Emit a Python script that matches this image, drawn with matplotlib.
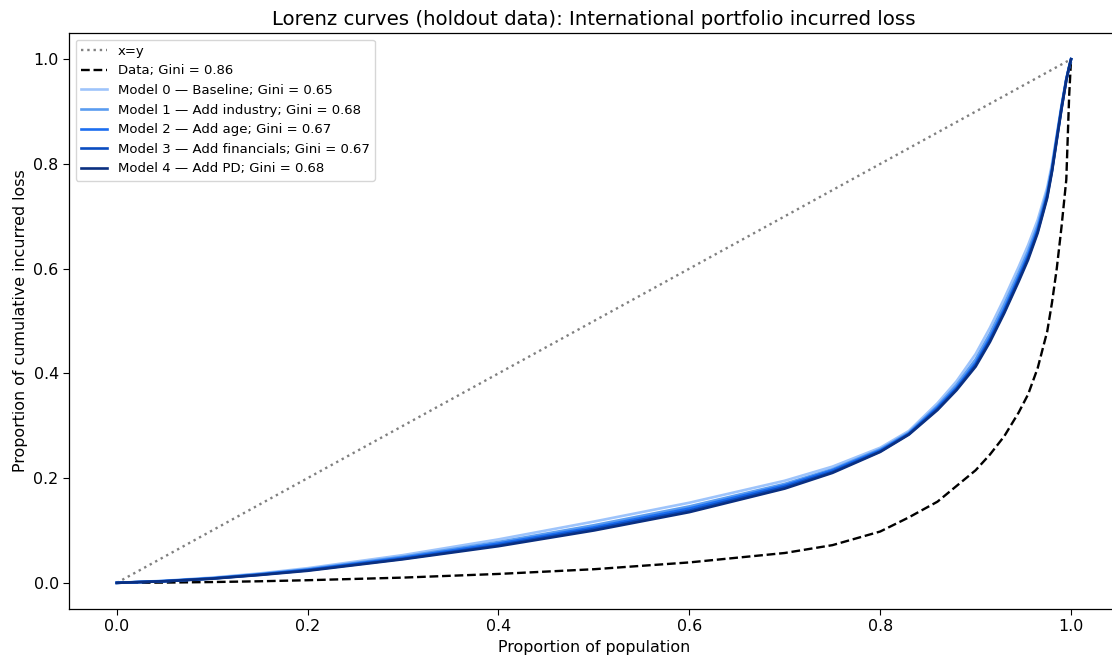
import matplotlib
matplotlib.use("Agg")
import matplotlib.pyplot as plt

x = [0, 0.05, 0.1, 0.15, 0.2, 0.3, 0.4, 0.5, 0.6, 0.7, 0.75, 0.8, 0.83, 0.86, 0.88,
     0.9, 0.915, 0.93, 0.945, 0.955, 0.965, 0.975, 0.98, 0.985, 0.99, 0.995, 0.998, 1.0]

data_y = [0, 0.0005, 0.0015, 0.003, 0.005, 0.010, 0.017, 0.026, 0.039, 0.057, 0.072,
          0.098, 0.125, 0.155, 0.185, 0.215, 0.245, 0.28, 0.325, 0.36, 0.41, 0.48,
          0.535, 0.60, 0.68, 0.77, 0.93, 1.0]

model0_y = [0, 0.004, 0.010, 0.018, 0.028, 0.053, 0.083, 0.117, 0.153, 0.195, 0.222,
            0.258, 0.290, 0.343, 0.385, 0.437, 0.487, 0.543, 0.603, 0.645, 0.693, 0.755,
            0.800, 0.856, 0.912, 0.963, 0.986, 1.0]
model1_y = [0, 0.0035, 0.009, 0.017, 0.026, 0.050, 0.078, 0.110, 0.146, 0.189, 0.217,
            0.255, 0.287, 0.338, 0.378, 0.427, 0.476, 0.532, 0.592, 0.634, 0.683, 0.748,
            0.794, 0.852, 0.910, 0.962, 0.986, 1.0]
model2_y = [0, 0.0033, 0.0085, 0.016, 0.025, 0.048, 0.075, 0.106, 0.142, 0.186, 0.215,
            0.253, 0.285, 0.335, 0.373, 0.420, 0.468, 0.523, 0.584, 0.626, 0.676, 0.742,
            0.789, 0.849, 0.908, 0.961, 0.985, 1.0]
model3_y = [0, 0.0031, 0.0082, 0.0155, 0.024, 0.046, 0.072, 0.103, 0.138, 0.183, 0.212,
            0.251, 0.284, 0.332, 0.370, 0.416, 0.463, 0.518, 0.579, 0.621, 0.671, 0.738,
            0.787, 0.847, 0.906, 0.960, 0.985, 1.0]
model4_y = [0, 0.003, 0.008, 0.015, 0.023, 0.045, 0.070, 0.100, 0.135, 0.180, 0.210,
            0.250, 0.283, 0.330, 0.368, 0.413, 0.460, 0.515, 0.575, 0.617, 0.668, 0.735,
            0.785, 0.845, 0.905, 0.960, 0.985, 1.0]

model_labels = [
    "Model 0 \u2014 Baseline; Gini = 0.65",
    "Model 1 \u2014 Add industry; Gini = 0.68",
    "Model 2 \u2014 Add age; Gini = 0.67",
    "Model 3 \u2014 Add financials; Gini = 0.67",
    "Model 4 \u2014 Add PD; Gini = 0.68",
]
model_colors = ["#9ec4fb", "#5a9cf0", "#1c6ef0", "#0a4cc0", "#0a2f80"]
models = [model0_y, model1_y, model2_y, model3_y, model4_y]

plt.rcParams.update({
    "xtick.labelsize": 11.4,
    "ytick.labelsize": 11.4,
    "axes.labelsize": 11.4,
    "xtick.major.size": 4,
    "ytick.major.size": 4,
    "axes.linewidth": 0.9,
})

fig = plt.figure(figsize=(11.12, 6.64), dpi=100)
ax = fig.add_axes([0.0621, 0.0828, 0.944, 0.8675])

ax.plot([0, 1], [0, 1], linestyle=":", color="gray", linewidth=1.7, label="x=y")
ax.plot(x, data_y, linestyle="--", color="black", linewidth=1.7, label="Data; Gini = 0.86")
for ys, lab, col in zip(models, model_labels, model_colors):
    ax.plot(x, ys, color=col, linewidth=1.9, label=lab)

ax.spines["right"].set_visible(False)
ax.set_title("Lorenz curves (holdout data): International portfolio incurred loss", fontsize=14.2)
ax.set_xlabel("Proportion of population")
ax.set_ylabel("Proportion of cumulative incurred loss")
ax.legend(loc="upper left", fontsize=9.5)

fig.savefig("out.png", dpi=100)
